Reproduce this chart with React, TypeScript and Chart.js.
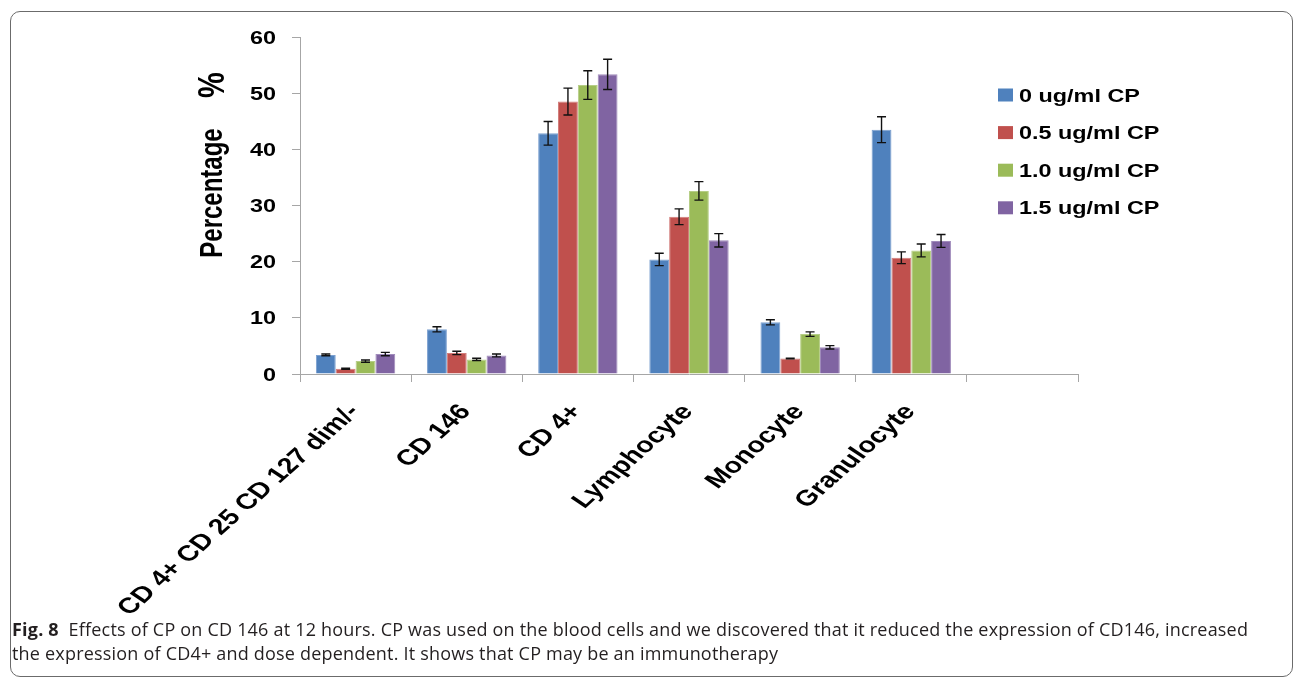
import React, { useEffect, useRef } from "react";
import { Chart, registerables } from "chart.js";

Chart.register(...registerables);

const CATEGORIES = ["CD 4+ CD 25 CD 127 dim/-", "CD 146", "CD 4+", "Lymphocyte", "Monocyte", "Granulocyte", ""];
const SERIES_LABELS = ["0 ug/ml CP", "0.5 ug/ml CP", "1.0 ug/ml CP", "1.5 ug/ml CP"];
const SERIES_COLORS = ["#4F81BD", "#C0504D", "#9BBB59", "#8064A2"];
const SERIES_BORDERS = ["#7BA0D0", "#D27C7A", "#B6CE86", "#A08BBB"];

const CP_00 = [3.4, 7.95, 42.85, 20.4, 9.2, 43.5, null];
const CP_05 = [0.95, 3.75, 48.5, 28.0, 2.75, 20.7, null];
const CP_10 = [2.3, 2.6, 51.45, 32.6, 7.1, 22.0, null];
const CP_15 = [3.55, 3.3, 53.35, 23.8, 4.75, 23.7, null];

const ERR_00 = [0.15, 0.45, 2.1, 1.1, 0.45, 2.3, null];
const ERR_05 = [0.1, 0.3, 2.4, 1.4, 0.05, 1.05, null];
const ERR_10 = [0.2, 0.2, 2.55, 1.65, 0.4, 1.15, null];
const ERR_15 = [0.3, 0.25, 2.7, 1.2, 0.3, 1.15, null];

const Y_TICKS = [0, 10, 20, 30, 40, 50, 60];
const Y_TITLE = "Percentage";
const Y_UNIT = "%";

const SERIES_VALUES = [CP_00, CP_05, CP_10, CP_15];
const SERIES_ERRORS = [ERR_00, ERR_05, ERR_10, ERR_15];

const SX = 1.3; // horizontal stretch of the original figure's text
const FONT = '"Liberation Sans", Arial, sans-serif';

const errorBarPlugin = {
  id: "errorBars",
  afterDatasetsDraw(chart: any) {
    const ctx = chart.ctx;
    const yScale = chart.scales.y;
    ctx.save();
    ctx.strokeStyle = "#111";
    ctx.lineWidth = 1.4;
    chart.data.datasets.forEach((ds: any, i: number) => {
      const meta = chart.getDatasetMeta(i);
      const errs = SERIES_ERRORS[i];
      meta.data.forEach((bar: any, j: number) => {
        const v = ds.data[j];
        const e = errs[j];
        if (v == null || e == null) return;
        const x = bar.x;
        const yt = yScale.getPixelForValue(v + e);
        const yb = yScale.getPixelForValue(v - e);
        ctx.beginPath();
        ctx.moveTo(x, yt);
        ctx.lineTo(x, yb);
        ctx.moveTo(x - 4.5, yt);
        ctx.lineTo(x + 4.5, yt);
        ctx.moveTo(x - 4.5, yb);
        ctx.lineTo(x + 4.5, yb);
        ctx.stroke();
      });
    });
    ctx.restore();
  },
};

const textPlugin = {
  id: "stretchedText",
  afterDraw(chart: any) {
    const ctx = chart.ctx;
    const xs = chart.scales.x;
    const ys = chart.scales.y;
    const area = chart.chartArea;
    ctx.save();
    ctx.fillStyle = "#000";

    // y tick labels
    ctx.font = `bold 18px ${FONT}`;
    ctx.textAlign = "right";
    ctx.textBaseline = "alphabetic";
    Y_TICKS.forEach((t) => {
      const y = ys.getPixelForValue(t);
      ctx.save();
      ctx.translate(area.left - 24, y + 6.5);
      ctx.scale(SX, 1);
      ctx.fillText(String(t), 0, 0);
      ctx.restore();
    });

    // y title
    ctx.save();
    ctx.font = `bold 24px ${FONT}`;
    ctx.textAlign = "center";
    ctx.translate(222, 193);
    ctx.scale(SX, 1);
    ctx.rotate(-Math.PI / 2);
    ctx.fillText(Y_TITLE, 0, 0);
    ctx.restore();
    ctx.save();
    ctx.font = `bold 29px ${FONT}`;
    ctx.textAlign = "center";
    ctx.translate(224, 85);
    ctx.scale(SX, 1);
    ctx.rotate(-Math.PI / 2);
    ctx.fillText(Y_UNIT, 0, 0);
    ctx.restore();

    // x labels
    ctx.font = `bold 22px ${FONT}`;
    ctx.textAlign = "right";
    const theta = (49 * Math.PI) / 180;
    CATEGORIES.forEach((c, j) => {
      if (!c) return;
      const x = xs.getPixelForTick(j);
      ctx.save();
      ctx.translate(x + 5, area.bottom + 38);
      ctx.scale(SX, 1);
      ctx.rotate(-theta);
      ctx.fillText(c, 0, 0);
      ctx.restore();
    });

    // legend
    ctx.font = `bold 18px ${FONT}`;
    ctx.textAlign = "left";
    SERIES_LABELS.forEach((lab, i) => {
      const cy = 95 + i * 37.6;
      ctx.fillStyle = SERIES_COLORS[i];
      ctx.fillRect(998, cy - 6.5, 15, 13);
      ctx.fillStyle = "#000";
      ctx.save();
      ctx.translate(1019, cy + 6.5);
      ctx.scale(SX, 1);
      ctx.fillText(lab, 0, 0);
      ctx.restore();
    });
    ctx.restore();
  },
};

function BarChart() {
  const ref = useRef<HTMLCanvasElement | null>(null);
  useEffect(() => {
    if (!ref.current) return;
    const chart = new Chart(ref.current, {
      type: "bar",
      data: {
        labels: CATEGORIES,
        datasets: SERIES_LABELS.map((label, i) => ({
          label,
          data: SERIES_VALUES[i],
          backgroundColor: SERIES_COLORS[i],
          borderColor: SERIES_BORDERS[i],
          borderWidth: 1,
          categoryPercentage: 0.714,
          barPercentage: 1,
        })),
      },
      options: {
        animation: false,
        responsive: false,
        maintainAspectRatio: false,
        layout: { padding: { left: 0, top: 37, right: 215, bottom: 0 } },
        plugins: { legend: { display: false }, tooltip: { enabled: false }, title: { display: false } },
        scales: {
          x: {
            ticks: { display: false },
            grid: { drawOnChartArea: false, drawTicks: true, tickLength: 8, color: "#A6A6A6", offset: true },
            border: { color: "#A6A6A6", width: 1 },
            afterFit: (s: any) => {
              s.height = 620 - 374;
            },
          },
          y: {
            min: 0,
            max: 60,
            ticks: { display: false, stepSize: 10 },
            grid: { drawOnChartArea: false, drawTicks: true, tickLength: 8, color: "#A6A6A6" },
            border: { color: "#A6A6A6", width: 1 },
            afterFit: (s: any) => {
              s.width = 300;
            },
          },
        },
      },
      plugins: [errorBarPlugin, textPlugin],
    });
    return () => chart.destroy();
  }, []);
  return (
    <canvas
      ref={ref}
      width={1293}
      height={620}
      style={{ position: "absolute", left: 0, top: 0, width: 1293, height: 620 }}
    />
  );
}

export default function App() {
  return (
    <div style={{ position: "absolute", left: 0, top: 0, width: 1293, height: 678, overflow: "hidden", background: "#fff" }}>
      <div
        style={{
          position: "absolute",
          left: 10,
          top: 11,
          width: 1283,
          height: 666,
          border: "1.5px solid #6b6b6b",
          borderRadius: 10,
          boxSizing: "border-box",
        }}
      />
      <BarChart />
      <div
        style={{
          position: "absolute",
          left: 12,
          top: 618,
          fontFamily: '"Open Sans", sans-serif',
          fontSize: 18,
          letterSpacing: "0.2px",
          lineHeight: "23.5px",
          color: "#231f20",
          whiteSpace: "nowrap",
        }}
      >
        <div>
          <b>Fig. 8</b>&nbsp; Effects of CP on CD 146 at 12 hours. CP was used on the blood cells and we discovered that it reduced the expression of CD146, increased
        </div>
        <div>the expression of CD4+ and dose dependent. It shows that CP may be an immunotherapy</div>
      </div>
    </div>
  );
}
